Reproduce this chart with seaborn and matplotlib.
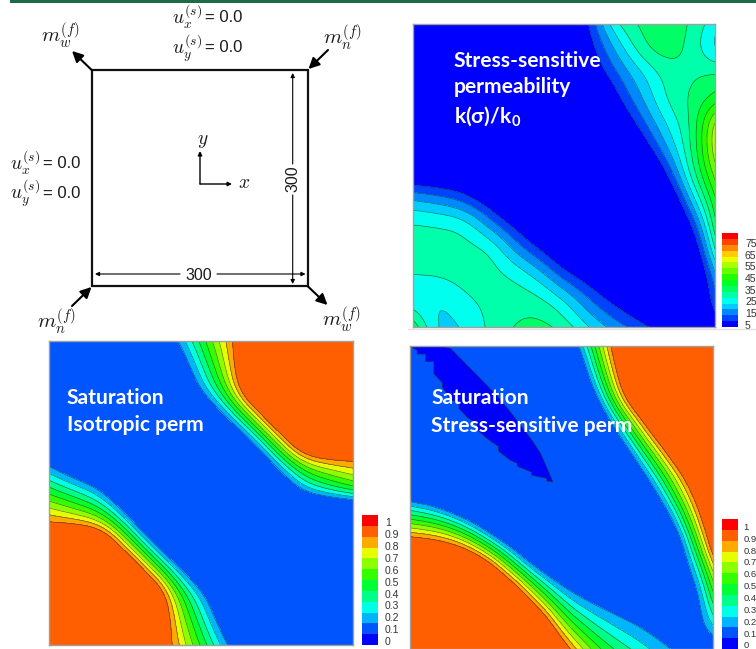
"""Composite: boundary-condition sketch plus three contour maps (permeability, saturation)."""

import matplotlib
matplotlib.use("Agg")
import matplotlib.pyplot as plt
from matplotlib.colors import ListedColormap
import numpy as np
import seaborn as sns

W, H = 756, 649

# node values on a 13x13 grid, rows run bottom to top.
# values outside the colour range just carry the slope across the contour edge
grid_pos = [0, 1/12, 2/12, 3/12, 4/12, 5/12, 6/12, 7/12, 8/12, 9/12, 10/12, 11/12, 1]

perm_field = [
    [32, 17, 21, 26, 30.5, 32, 27.5, 19, 12, 6.5, 0, -4, 2],
    [20, 19, 24.5, 26, 28, 27, 20.7, 10, 2.7, -4, -10, -8, 8],
    [25.5, 26, 27, 27, 25, 18.3, 6.8, 0, -8, -12, -15, -12, 14],
    [27, 27, 27, 26.5, 14.3, 5, -6, -12, -15, -15, -15, -8, 27],
    [26.5, 26, 24.5, 13.4, 3, -8, -15, -15, -15, -15, -15, 2, 35],
    [15.5, 13, 8.6, -0.1, -12, -15, -15, -15, -15, -15, -10, 17, 40],
    [-3.4, -4.5, -6, -15, -15, -15, -15, -15, -15, -15, 3, 27, 48],
    [-15, -15, -15, -15, -15, -15, -15, -15, -15, -2.5, 14.4, 29, 55],
    [-15, -15, -15, -15, -15, -15, -15, -15, -6, 7.5, 20.7, 29, 54],
    [-15, -15, -15, -15, -15, -15, -15, -15, 3, 14.5, 26, 31, 36],
    [-15, -15, -15, -15, -15, -15, -15, -1, 9, 19, 27, 29, 31],
    [-15, -15, -15, -15, -15, -15, -10, 2, 16, 29, 34, 28.5, 17],
    [-15, -15, -15, -15, -15, -15, -12, 6.5, 25.5, 31, 36, 29, 22],
]

sat_iso_field = [
    [1.6, 1.6, 1.6, 1.57, 1.2, .83, .46, .09, -.28, -.6, -.6, -.6, -.6],
    [1.6, 1.6, 1.6, 1.6, 1.35, .74, .31, -.11, -.51, -.6, -.6, -.6, -.6],
    [1.6, 1.6, 1.6, 1.57, 1.3, .58, .12, -.29, -.6, -.6, -.6, -.6, -.6],
    [1.57, 1.6, 1.57, 1.3, .68, .12, -.3, -.6, -.6, -.6, -.6, -.6, -.6],
    [1.2, 1.35, 1.3, .68, .09, -.38, -.6, -.6, -.6, -.6, -.6, -.6, -.6],
    [.83, .74, .58, .12, -.38, -.6, -.6, -.6, -.6, -.6, -.6, -.6, -.6],
    [.46, .31, .12, -.3, -.6, -.6, -.6, -.6, -.6, -.3, .12, .31, .46],
    [.09, -.11, -.29, -.6, -.6, -.6, -.6, -.6, -.38, .12, .58, .74, .83],
    [-.28, -.51, -.6, -.6, -.6, -.6, -.6, -.38, .09, .68, 1.3, 1.35, 1.2],
    [-.6, -.6, -.6, -.6, -.6, -.6, -.3, .12, .68, 1.3, 1.57, 1.6, 1.57],
    [-.6, -.6, -.6, -.6, -.6, -.29, .12, .58, 1.3, 1.57, 1.6, 1.6, 1.6],
    [-.6, -.6, -.6, -.6, -.51, -.11, .31, .74, 1.35, 1.6, 1.6, 1.6, 1.6],
    [-.6, -.6, -.6, -.6, -.28, .09, .46, .83, 1.2, 1.57, 1.6, 1.6, 1.6],
]

sat_stress_field = [
    [1.6, 1.6, 1.6, 1.6, 1.6, 1.6, .99, .6, .38, .25, .12, .01, -.06],
    [1.6, 1.6, 1.6, 1.6, 1.6, 1.24, .61, .32, .17, .07, -.03, -.13, .26],
    [1.6, 1.6, 1.6, 1.6, 1.3, .69, .23, .04, -.05, -.11, -.18, -.19, .48],
    [1.6, 1.6, 1.6, 1.24, .67, .14, -.15, -.23, -.26, -.29, -.33, -.02, .72],
    [1.13, 1.09, .92, .53, .04, -.41, -.53, -.51, -.48, -.47, -.48, .23, 1.05],
    [.55, .46, .22, -.18, -.6, -.6, -.6, -.6, -.6, -.6, -.18, .53, 1.24],
    [-.03, -.16, -.46, -.6, -.6, -.6, -.6, -.6, -.6, -.39, .21, .81, 1.4],
    [-.6, -.6, -.6, -.6, -.6, -.6, -.6, -.6, -.57, -.01, .54, 1.1, 1.6],
    [-.6, -.6, -.6, -.6, -.6, -.6, -.6, -.6, -.22, .37, .96, 1.56, 1.6],
    [-.6, -.6, -.6, -.6, -.6, -.6, -.6, -.49, .16, .81, 1.46, 1.6, 1.6],
    [-.6, -.6, -.6, -.6, -.6, -.6, -.6, -.16, .6, 1.36, 1.6, 1.6, 1.6],
    [-.6, -.6, -.6, -.6, -.6, -.6, -.57, .13, .83, 1.53, 1.6, 1.6, 1.6],
    [-.6, -.6, -.6, -.6, -.6, -.6, -.3, .34, .97, 1.6, 1.6, 1.6, 1.6],
]

# the below-zero sliver in the stress-sensitive saturation map, jagged lower edge
wedge_x = [0, .022, .022, .049, .049, .077, .077, .105, .105, .132, .16, .16, .187, .22,
           .22, .253, .29, .29, .33, .352, .352, .374, .4, .4, .429, .45, .45, .47]
wedge_low = [1, .987, .975, .975, .95, .95, .91, .88, .865, .827, .81, .795, .767, .74,
             .725, .696, .67, .655, .624, .615, .605, .596, .585, .575, .569, .565, .556, .553]
wedge_high = [1, 1, 1, 1, 1, 1, 1, 1, 1, .994, .966, .966, .938, .905,
              .905, .871, .832, .832, .784, .755, .755, .726, .692, .692, .648, .60, .60, .553]

perm_levels = [5, 10, 15, 20, 25, 30, 35, 40, 45, 50, 55, 60, 65, 70, 75]
perm_labels = ["75", "65", "55", "45", "35", "25", "15", "5"]
perm_colors = ["#0000ff", "#0044ff", "#0088ff", "#00ccff", "#00ffee", "#00ffaa",
               "#00ff66", "#00ff22", "#22ff00", "#66ff00", "#aaff00", "#eeff00",
               "#ffcc00", "#ff8800", "#ff4400", "#ff0000"]

sat_levels = [0, .1, .2, .3, .4, .5, .6, .7, .8, .9, 1]
sat_labels = ["1", "0.9", "0.8", "0.7", "0.6", "0.5", "0.4", "0.3", "0.2", "0.1", "0"]
sat_colors = ["#0000ff", "#0055ff", "#00b4ff", "#00ffe6", "#00ff88", "#00ff33",
              "#33ff00", "#8cff00", "#e5ff00", "#ffaa00", "#ff5f00", "#ff0000"]

INK = "#1a1a1a"

sns.set_theme(style="white")
plt.rcParams.update({"font.family": ["Liberation Sans", "DejaVu Sans"],
                     "mathtext.fontset": "cm"})


def px_axes(fig, left, top, right, bottom, **kw):
    return fig.add_axes([left / W, 1 - bottom / H, (right - left) / W, (bottom - top) / H], **kw)


def smooth_field(field, factor=10):
    # only for drawing: softens the coarse grid so the contour edges are not faceted
    z = np.array(field, float)
    fine = np.linspace(0, 1, (z.shape[0] - 1) * factor + 1)
    z = np.array([np.interp(fine, grid_pos, row) for row in z])
    z = np.array([np.interp(fine, grid_pos, col) for col in z.T]).T
    z = np.pad(z, 2 * factor, mode="reflect", reflect_type="odd")
    for width in (factor + 1, factor // 2 + 1):
        kernel = np.ones(width) / width
        z = np.apply_along_axis(np.convolve, 0, z, kernel, "same")
        z = np.apply_along_axis(np.convolve, 1, z, kernel, "same")
    return fine, z[2 * factor:-2 * factor, 2 * factor:-2 * factor]


def contour_panel(fig, box, field, levels, colors, clip=None):
    ax = px_axes(fig, *box)
    fine, z = smooth_field(field)
    if clip:
        z = np.clip(z, *clip)
    ax.contourf(fine, fine, z, levels=levels, colors=colors, extend="both")
    ax.contour(fine, fine, z, levels=[v for v in levels if clip is None or clip[0] < v < clip[1]],
               colors="#1c3a30", linewidths=0.45, alpha=0.75)
    ax.set_xlim(0, 1)
    ax.set_ylim(0, 1)
    ax.set_xticks([])
    ax.set_yticks([])
    for s in ax.spines.values():
        s.set_visible(True)
        s.set_color("#a0a0a0")
        s.set_linewidth(1)
    return ax


def colour_bar(fig, box, colors, labels, first, last, size=7.5, pad=5):
    ax = px_axes(fig, *box)
    bands = np.arange(len(colors))[::-1].reshape(-1, 1)
    sns.heatmap(bands, cmap=ListedColormap(colors), cbar=False, ax=ax,
                xticklabels=False, yticklabels=False, vmin=0, vmax=len(colors) - 1)
    ax.yaxis.tick_right()
    ax.set_yticks(np.linspace(first, last, len(labels)), labels, rotation=0,
                  fontsize=size, color="#333333")
    ax.tick_params(axis="y", length=0, pad=pad)
    return ax


def arrow(ax, start, end, lw=1.0, scale=8):
    ax.annotate("", xy=end, xytext=start,
                arrowprops=dict(arrowstyle="-|>", color="black", lw=lw, mutation_scale=scale,
                                shrinkA=0, shrinkB=0))


fig = plt.figure(figsize=(W / 100, H / 100), dpi=100, facecolor="white")

contour_panel(fig, (413, 24, 715, 327), perm_field, perm_levels, perm_colors)
colour_bar(fig, (722, 233, 738, 327), perm_colors, perm_labels, 1.69, 15.6)

contour_panel(fig, (49, 341, 353, 645), sat_iso_field, sat_levels, sat_colors, clip=(.02, .95))
colour_bar(fig, (362, 515, 378, 645), sat_colors, sat_labels, 0.68, 11.63)

ax_d = contour_panel(fig, (410, 346, 713, 649), sat_stress_field, sat_levels, sat_colors, clip=(.02, .95))
ax_d.fill_between(wedge_x, wedge_low, wedge_high, color=sat_colors[0], lw=0.4, ec="#1c3a30")
colour_bar(fig, (722, 519, 738, 649), sat_colors, sat_labels, 0.68, 11.63, size=6.8, pad=4)

# overlay in picture pixels for the sketch and the captions
ov = fig.add_axes([0, 0, 1, 1], zorder=5)
ov.set_xlim(0, W)
ov.set_ylim(H, 0)
ov.axis("off")
ov.patch.set_alpha(0)

ov.add_patch(plt.Rectangle((10, 0), W - 10, 2.5, color="#1f6b45", lw=0))
ov.plot([408, W], [328.5, 328.5], color="#e2e2e2", lw=1)

ov.add_patch(plt.Rectangle((91.7, 70), 216, 216, fill=False, ec="#111111", lw=1.6))

arrow(ov, (91.7, 70), (72, 51), lw=1.5, scale=16)
arrow(ov, (328, 50), (308.5, 69), lw=1.5, scale=16)
arrow(ov, (72, 306), (91.5, 287), lw=1.5, scale=16)
arrow(ov, (308, 286.5), (327.5, 305), lw=1.5, scale=16)

# dimension lines and coordinate axes
for a, b in [((180, 274), (95, 274)), ((217, 274), (305.5, 274))]:
    arrow(ov, a, b, lw=0.8, scale=6)
for a, b in [((292.7, 164), (292.7, 73)), ((292.7, 195), (292.7, 284))]:
    arrow(ov, a, b, lw=0.8, scale=6)
arrow(ov, (200, 184), (232, 184), lw=1.0, scale=6)
arrow(ov, (200, 184), (200, 151), lw=1.0, scale=6)

ov.text(198.5, 275, "300", ha="center", va="center", fontsize=11.5, color=INK)
ov.text(293, 179, "300", ha="center", va="center", rotation=90, fontsize=11.5, color=INK)
ov.text(203, 142, r"$y$", ha="center", va="center", fontsize=14, color=INK)
ov.text(244, 184, r"$x$", ha="center", va="center", fontsize=14, color=INK)

for x, y, s in [(172, 17, r"$u_x^{(s)}$"), (172, 48, r"$u_y^{(s)}$"),
                (10, 163, r"$u_x^{(s)}$"), (10, 193, r"$u_y^{(s)}$")]:
    ov.text(x, y, s, ha="left", va="center", fontsize=14, color=INK)
    ov.text(x + 33, y, "= 0.0", ha="left", va="center", fontsize=12, color=INK)

for x, y, s in [(60, 36, r"$m_w^{(f)}$"), (342, 38, r"$m_n^{(f)}$"),
                (56, 322, r"$m_n^{(f)}$"), (341, 320, r"$m_w^{(f)}$")]:
    ov.text(x, y, s, ha="center", va="center", fontsize=15, color=INK)

for x, y, s in [(454, 61, "Stress-sensitive"), (454, 87, "permeability"),
                (454, 117, "k(σ)/k$_{\\mathregular{0}}$"),
                (66.7, 398, "Saturation"), (66.7, 425, "Isotropic perm"),
                (431, 398, "Saturation"), (431, 426, "Stress-sensitive perm")]:
    ov.text(x, y, s, ha="left", va="center", fontsize=15.1, fontweight="bold", color="white",
            family=["Lato", "DejaVu Sans"])

fig.savefig("out.png", dpi=100, facecolor="white")
